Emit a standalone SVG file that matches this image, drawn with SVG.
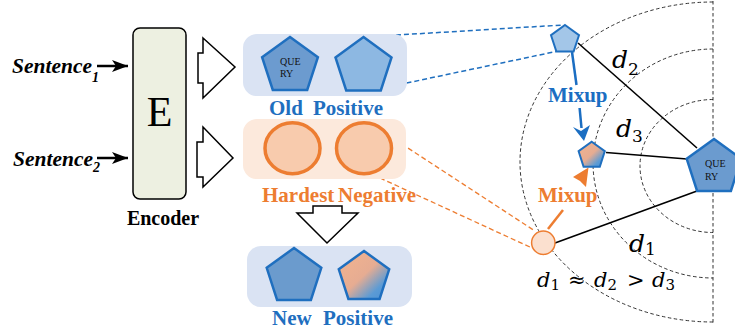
<svg xmlns="http://www.w3.org/2000/svg" width="735" height="335" viewBox="0 0 735 335">
<defs>
<style>
.lbl{font-family:"Liberation Serif","Times New Roman",serif;font-weight:bold;font-size:21px}
.blue{fill:#1f6fbf}
.orange{fill:#ed7d31}
.pent{stroke:#1f6fbf;stroke-width:2.5;stroke-linejoin:miter}
.math{font-family:"DejaVu Serif",serif;font-style:italic;fill:#000}
.sub{font-style:normal}
.arc{fill:none;stroke:#333;stroke-width:1;stroke-dasharray:3.5 2.5}
.bdash{stroke:#1f6fbf;stroke-width:1.5;stroke-dasharray:5 3;fill:none}
.odash{stroke:#ed7d31;stroke-width:1.3;stroke-dasharray:5 3;fill:none}
.solid{stroke:#000;stroke-width:1.6;fill:none}
.block{fill:#fff;stroke:#000;stroke-width:1.5;stroke-linejoin:miter}
.qt{font-family:"Liberation Serif","Times New Roman",serif;font-size:10px;fill:#111}
.sent{font-family:"Liberation Serif","Times New Roman",serif;font-weight:bold;font-style:italic;font-size:21.5px;fill:#000}
.circ{fill:#f8cbad;stroke:#ed7d31;stroke-width:3.5}
</style>
<linearGradient id="mix" x1="0" y1="0" x2="1" y2="1">
<stop offset="0" stop-color="#f3b48f"/>
<stop offset="0.5" stop-color="#e6ac92"/>
<stop offset="0.78" stop-color="#5b9bd5"/>
<stop offset="1" stop-color="#4a8fd3"/>
</linearGradient>
<marker id="ah" markerUnits="userSpaceOnUse" markerWidth="16" markerHeight="12" refX="16" refY="6" orient="auto">
<path d="M0,0 L16,6 L0,12 L4,6 Z" fill="#000"/>
</marker>
</defs>
<rect width="735" height="335" fill="#fff"/>

<g id="arcs">
<path class="arc" d="M713,1 V323"/>
<path class="arc" d="M713,2 A193,160 0 0 0 713,322"/>
<path class="arc" d="M713,49 A120,114.5 0 0 0 713,278"/>
<path class="arc" d="M713,99.5 A73,66.5 0 0 0 713,232.5"/>
</g>

<g id="connectors">
<line x1="97" y1="66" x2="128" y2="66" stroke="#000" stroke-width="2.5" marker-end="url(#ah)"/>
<line x1="97" y1="158" x2="128" y2="158" stroke="#000" stroke-width="2.5" marker-end="url(#ah)"/>
<path class="block" d="M203,38 L235,67 L203,98 L203,83 L198,83 L198,53 L203,53 Z"/>
<path class="block" d="M203,127 L233,158 L203,187 L203,177 L197,177 L197,142 L203,142 Z"/>
<path class="block" d="M313,206 L342,206 L342,213 L358,213 L327,243 L297,213 L313,213 Z"/>
<line class="bdash" x1="364" y1="37" x2="563" y2="25"/>
<line class="bdash" x1="383" y1="88" x2="556" y2="51.5"/>
<line class="odash" x1="388" y1="135" x2="535" y2="231"/>
<line class="odash" x1="380" y1="178" x2="532" y2="248"/>
<line class="solid" x1="578" y1="43" x2="697" y2="148"/>
<line class="solid" x1="606" y1="152.5" x2="687" y2="159"/>
<line class="solid" x1="555" y1="243" x2="697" y2="191"/>
<line x1="572" y1="52" x2="576.5" y2="85" stroke="#1b6ec2" stroke-width="2.5"/>
<line x1="579.6" y1="108" x2="581.5" y2="128" stroke="#1b6ec2" stroke-width="2.5"/>
<polygon points="584,141 573,127 581,131 590,125" fill="#1b6ec2"/>
<line x1="548" y1="229" x2="563" y2="210" stroke="#ed7d31" stroke-width="2.5"/>
<polygon points="588.5,167.5 573,177 580,181 586,187" fill="#ed7d31"/>
</g>

<g id="encoder">
<rect x="133" y="28" width="53" height="171" rx="7" fill="#edf0e1" stroke="#000" stroke-width="1.5"/>
<text x="159.5" y="126" font-family="Liberation Serif, Times New Roman, serif" font-size="42" text-anchor="middle" fill="#000">E</text>
<text x="163" y="225" class="lbl" text-anchor="middle" fill="#000" style="font-size:20px">Encoder</text>
</g>

<g id="sentence1">
<text x="12" y="73" class="sent">Sentence<tspan style="font-size:14px" dy="9">1</tspan></text>
</g>
<g id="sentence2">
<text x="13" y="166" class="sent">Sentence<tspan style="font-size:14px" dy="6">2</tspan></text>
</g>

<g id="old-positive">
<rect x="243" y="34" width="164" height="62" rx="14" fill="#dae3f3"/>
<polygon class="pent" fill="#6c9bcf" points="290,37 317.9,57.2 307.2,90 272.8,90 262.1,57.2"/>
<text class="qt" x="280" y="65">QUE</text>
<text class="qt" x="280" y="77">RY</text>
<polygon class="pent" fill="#8db8e2" points="363.5,37 391.5,57.4 380.8,90.4 346.2,90.4 335.5,57.4"/>
<text class="lbl blue" x="269" y="115">Old</text>
<text class="lbl blue" x="313" y="115">Positive</text>
</g>

<g id="hardest-negative">
<rect x="243" y="119" width="163" height="60" rx="14" fill="#fce9dc"/>
<ellipse class="circ" cx="292.5" cy="148.3" rx="27.5" ry="25.5"/>
<ellipse class="circ" cx="364" cy="148.3" rx="27.5" ry="25.5"/>
<text class="lbl orange" x="262" y="201.5">Hardest</text>
<text class="lbl orange" x="338" y="201.5">Negative</text>
</g>

<g id="new-positive">
<rect x="247" y="246" width="165" height="61" rx="14" fill="#dae3f3"/>
<polygon class="pent" fill="#6b9bcd" points="294,248 321.3,267.8 310.9,299.9 277.1,299.9 266.7,267.8"/>
<polygon class="pent" fill="url(#mix)" points="364,251 389.2,269.3 379.6,298.9 348.4,298.9 338.8,269.3"/>
<text class="lbl blue" x="272" y="325">New</text>
<text class="lbl blue" x="323" y="325">Positive</text>
</g>

<g id="query">
<polygon class="pent" fill="#6b9bcf" points="714,139 741.3,158.8 730.9,190.9 697.1,190.9 686.7,158.8"/>
<text class="qt" x="705" y="167">QUE</text>
<text class="qt" x="705" y="180">RY</text>
</g>

<g id="pos-small">
<polygon class="pent" style="stroke-width:2" fill="#a3c6e8" points="565,25 579,35.2 573.6,51.6 556.4,51.6 551,35.2"/>
</g>
<g id="mix-small">
<polygon class="pent" style="stroke-width:2" fill="url(#mix)" points="591.7,141.7 604.8,151.2 599.8,166.7 583.6,166.7 578.6,151.2"/>
</g>
<g id="neg-small">
<circle cx="543.3" cy="242.7" r="11.7" fill="#fbe0cf" stroke="#ed7d31" stroke-width="1.5"/>
</g>

<g id="labels">
<text class="lbl" x="548" y="102" fill="#1b6ec2">Mixup</text>
<text class="lbl orange" x="538" y="201.5">Mixup</text>
<text class="math" x="612" y="68" font-size="25">d<tspan class="sub" font-size="17" dy="7">2</tspan></text>
<text class="math" x="616" y="137" font-size="25">d<tspan class="sub" font-size="17" dy="5">3</tspan></text>
<text class="math" x="629" y="252" font-size="25">d<tspan class="sub" font-size="17" dy="3">1</tspan></text>
<text class="math" x="537" y="287" font-size="21">d<tspan class="sub" font-size="15" dy="3">1</tspan></text>
<text class="math sub" x="568" y="287" font-size="21">≈</text>
<text class="math" x="594" y="287" font-size="21">d<tspan class="sub" font-size="15" dy="3">2</tspan></text>
<text class="math sub" x="627" y="287" font-size="21">&gt;</text>
<text class="math" x="652" y="287" font-size="21">d<tspan class="sub" font-size="15" dy="3">3</tspan></text>
</g>
</svg>
